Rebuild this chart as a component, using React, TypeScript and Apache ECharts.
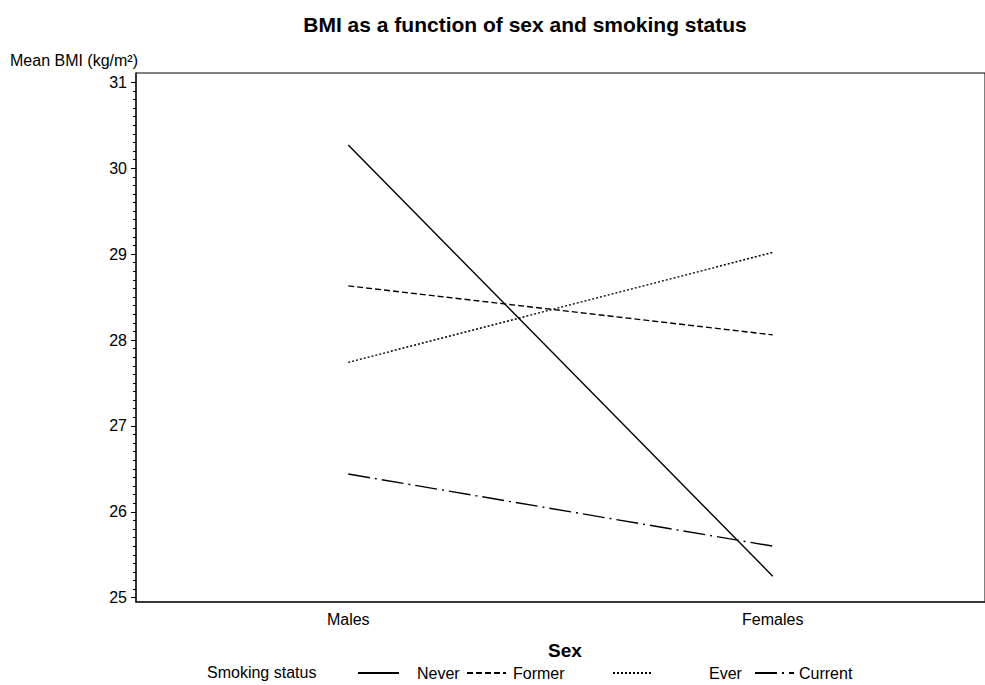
import React, { useEffect, useRef } from "react";
import * as echarts from "echarts";

const categories = ["Males", "Females"];
const seriesNames = ["Never", "Former", "Ever", "Current"];
const neverValues = [30.27, 25.25];
const formerValues = [28.63, 28.06];
const everValues = [27.74, 29.02];
const currentValues = [26.44, 25.6];
const yMin = 25;
const yMax = 31;
const yStep = 1;

const FONT = "'Liberation Sans', Arial, Helvetica, sans-serif";

export default function App() {
  const ref = useRef<HTMLDivElement>(null);
  useEffect(() => {
    if (!ref.current) return;
    const chart = echarts.init(ref.current, undefined, { renderer: "svg" });
    const dashes: any[] = ["solid", [6, 3], [2, 2], [22, 5, 2, 5]];
    const values = [neverValues, formerValues, everValues, currentValues];
    const legendLefts = [357, 466, 612, 754];
    const legendPads = [13, 2, 52, 0];
    const option: any = {
      animation: false,
      backgroundColor: "#fff",
      textStyle: { fontFamily: FONT, color: "#000" },
      grid: [
        { left: 136, right: -13, top: 73, bottom: 83, show: true, borderColor: "#000", borderWidth: 1, backgroundColor: "transparent" },
        { left: 136, right: -13, top: 82.3, bottom: 87.3 },
      ],
      xAxis: [
        {
          gridIndex: 0,
          type: "category",
          data: categories,
          boundaryGap: true,
          axisLine: { show: true, lineStyle: { color: "#222", width: 1.6 } },
          axisTick: { show: false },
          axisLabel: { fontSize: 16, color: "#000", margin: 9, fontFamily: FONT },
          splitLine: { show: false },
        },
        {
          gridIndex: 1,
          type: "category",
          data: categories,
          boundaryGap: true,
          show: false,
        },
      ],
      yAxis: [
        {
          gridIndex: 0,
          type: "value",
          min: 0,
          max: 1,
          axisLine: { show: true, lineStyle: { color: "#222", width: 1.6 } },
          axisTick: { show: false },
          axisLabel: { show: false },
          splitLine: { show: false },
        },
        {
          gridIndex: 1,
          type: "value",
          min: yMin,
          max: yMax,
          interval: yStep,
          axisLine: { show: false },
          axisTick: { show: true, length: 5, lineStyle: { color: "#000", width: 1 } },
          minorTick: { show: true, splitNumber: 10, length: 3, lineStyle: { color: "#000", width: 1 } },
          axisLabel: { fontSize: 16, color: "#000", margin: 9, fontFamily: FONT },
          splitLine: { show: false },
          minorSplitLine: { show: false },
        },
      ],
      legend: seriesNames.map((name, i) => ({
        data: [name],
        left: legendLefts[i],
        top: 665,
        padding: 0,
        itemWidth: i === 0 ? 41 : 39,
        itemHeight: 14,
        selectedMode: false,
        itemStyle: { opacity: 0, borderWidth: 0 },
        textStyle: { fontSize: 16, color: "#000", fontFamily: FONT, padding: [0, 0, 0, legendPads[i]] },
      })),
      graphic: [
        {
          type: "text",
          x: 525,
          y: 24,
          style: { text: "BMI as a function of sex and smoking status", font: `bold 21px ${FONT}`, fill: "#000", textAlign: "center", textVerticalAlign: "middle" },
        },
        {
          type: "text",
          x: 10,
          y: 60,
          style: { text: "Mean BMI (kg/m²)", font: `16px ${FONT}`, fill: "#000", textAlign: "left", textVerticalAlign: "middle" },
        },
        {
          type: "text",
          x: 565,
          y: 650,
          style: { text: "Sex", font: `bold 19px ${FONT}`, fill: "#000", textAlign: "center", textVerticalAlign: "middle" },
        },
        {
          type: "text",
          x: 207,
          y: 672,
          style: { text: "Smoking status", font: `16px ${FONT}`, fill: "#000", textAlign: "left", textVerticalAlign: "middle" },
        },
      ],
      series: seriesNames.map((name, i) => ({
        name,
        type: "line",
        xAxisIndex: 1,
        yAxisIndex: 1,
        data: values[i],
        symbol: "none",
        showSymbol: false,
        itemStyle: { color: "#000" },
        lineStyle: { color: "#000", width: 1.4, type: dashes[i] },
      })),
    };
    chart.setOption(option);
    return () => chart.dispose();
  }, []);
  return (
    <div
      ref={ref}
      style={{ position: "absolute", left: 0, top: 0, width: 985, height: 685 }}
    />
  );
}
